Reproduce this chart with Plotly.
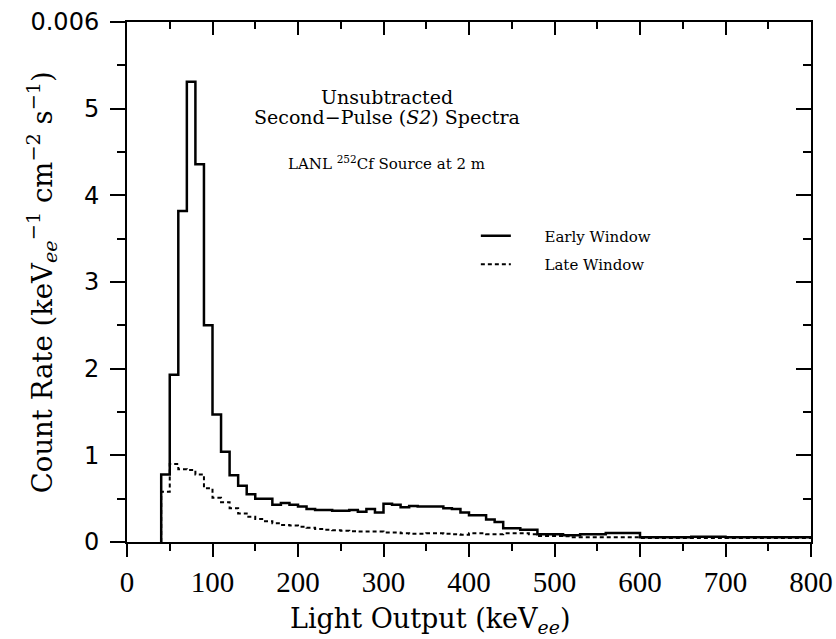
import plotly.graph_objects as go

# Bin edges (keV_ee), 10 keV bins starting at 40
bin_start = 40
bin_width = 10
# Early window count rate (units of 1e-3 keV^-1 cm^-2 s^-1)
early = [0.78, 1.93, 3.82, 5.31, 4.36, 2.50, 1.47, 1.04, 0.77, 0.65,
         0.55, 0.50, 0.50, 0.43, 0.45, 0.43, 0.41, 0.38, 0.37, 0.37,
         0.36, 0.36, 0.37, 0.35, 0.38, 0.34, 0.44, 0.43, 0.40, 0.415,
         0.41, 0.41, 0.41, 0.39, 0.38, 0.34, 0.31, 0.31, 0.26, 0.23,
         0.16, 0.16, 0.14, 0.14, 0.09, 0.09, 0.09, 0.077, 0.077, 0.09,
         0.09, 0.09, 0.105, 0.105, 0.105, 0.105, 0.055, 0.055, 0.055, 0.055,
         0.055, 0.055, 0.06, 0.06, 0.06, 0.06, 0.055, 0.055, 0.055, 0.055,
         0.055, 0.055, 0.055, 0.055, 0.055, 0.055]
late = [0.58, 0.90, 0.84, 0.83, 0.78, 0.62, 0.51, 0.46, 0.39, 0.33,
        0.29, 0.265, 0.24, 0.215, 0.195, 0.19, 0.177, 0.165, 0.15, 0.14,
        0.135, 0.13, 0.125, 0.12, 0.12, 0.12, 0.11, 0.11, 0.10, 0.095,
        0.095, 0.10, 0.10, 0.095, 0.09, 0.085, 0.10, 0.10, 0.09, 0.09,
        0.10, 0.10, 0.10, 0.09, 0.07, 0.07, 0.07, 0.065, 0.055, 0.055,
        0.055, 0.055, 0.055, 0.055, 0.055, 0.055, 0.045, 0.045, 0.045, 0.045,
        0.045, 0.045, 0.045, 0.045, 0.045, 0.045, 0.045, 0.045, 0.045, 0.045,
        0.045, 0.045, 0.045, 0.045, 0.045, 0.045]

y_tickvals = [0, 1, 2, 3, 4, 5, 6]
y_ticktext = ["0", "1", "2", "3", "4", "5", "0.006"]
x_tickvals = [0, 100, 200, 300, 400, 500, 600, 700, 800]


def step_xy(vals):
    xs = [bin_start] + [bin_start + i * bin_width for i in range(len(vals))] + [bin_start + len(vals) * bin_width]
    ys = [0] + list(vals) + [vals[-1]]
    return xs, ys


fig = go.Figure()
ex, ey = step_xy(early)
lx, ly = step_xy(late)
nb = "\u00a0"
fig.add_trace(go.Scatter(x=ex, y=ey, mode="lines", line=dict(shape="hv", color="black", width=2.5),
                         name=nb * 6 + "Early Window", legendgroup="a"))
fig.add_trace(go.Scatter(x=lx, y=ly, mode="lines", line=dict(shape="hv", color="black", width=2, dash="4px,3px"),
                         name=nb * 6 + "Late Window", legendgroup="b"))
# invisible trace to activate mirrored axes
fig.add_trace(go.Scatter(x=[0], y=[0], xaxis="x2", yaxis="y2", mode="markers",
                         marker=dict(opacity=0), showlegend=False, hoverinfo="skip"))

serif = "DejaVu Serif"
fig.update_layout(
    width=836, height=639,
    margin=dict(l=127, r=25, t=22, b=97, autoexpand=False),
    paper_bgcolor="white", plot_bgcolor="white",
    showlegend=True,
    legend=dict(x=0.51, y=0.62, xanchor="left", yanchor="top", bgcolor="rgba(0,0,0,0)",
                font=dict(family=serif, size=15, color="black"), tracegroupgap=6,
                traceorder="grouped"),
    xaxis=dict(range=[0, 800], tickvals=x_tickvals, ticks="outside", ticklen=13, tickwidth=1.5,
               tickcolor="black", showline=True, linewidth=2, linecolor="black", mirror=True,
               showgrid=False, zeroline=False, automargin=False,
               minor=dict(tickmode="linear", tick0=0, dtick=50, ticks="outside", ticklen=7, tickwidth=1.5, tickcolor="black"),
               tickfont=dict(family="Liberation Serif", size=29, color="black")),
    yaxis=dict(range=[0, 6], tickvals=y_tickvals, ticktext=y_ticktext, ticks="outside", ticklen=15, tickwidth=1.5,
               tickcolor="black", showline=True, linewidth=2, linecolor="black", mirror=True,
               showgrid=False, zeroline=False, ticklabelstandoff=6, automargin=False,
               minor=dict(tickmode="linear", tick0=0, dtick=0.5, ticks="outside", ticklen=8, tickwidth=1.5, tickcolor="black"),
               tickfont=dict(family="DejaVu Sans", size=24, color="black")),
    xaxis2=dict(overlaying="x", side="top", range=[0, 800], tickvals=x_tickvals, ticks="inside", ticklen=13,
                tickwidth=1.5, tickcolor="black", showticklabels=False, showgrid=False, zeroline=False, automargin=False,
                minor=dict(tickmode="linear", tick0=0, dtick=50, ticks="inside", ticklen=7, tickwidth=1.5, tickcolor="black")),
    yaxis2=dict(overlaying="y", side="right", range=[0, 6], tickvals=y_tickvals, ticks="inside", ticklen=15,
                tickwidth=1.5, tickcolor="black", showticklabels=False, showgrid=False, zeroline=False, automargin=False,
                minor=dict(tickmode="linear", tick0=0, dtick=0.5, ticks="inside", ticklen=8, tickwidth=1.5, tickcolor="black")),
)

fig.add_annotation(x=0.443, y=-0.15, xref="paper", yref="paper", showarrow=False,
                   xanchor="center", yanchor="middle",
                   text="Light Output (keV<sub><i>ee</i></sub>)",
                   font=dict(family=serif, size=27, color="black"))
fig.add_annotation(x=-0.124, y=0.5, xref="paper", yref="paper", showarrow=False, textangle=-90,
                   xanchor="center", yanchor="middle",
                   text="Count Rate (keV<sub><i>ee</i></sub><sup>−1</sup> cm<sup>−2</sup> s<sup>−1</sup>)",
                   font=dict(family=serif, size=27.5, color="black"))
fig.add_annotation(x=0.38, y=0.856, xref="paper", yref="paper", showarrow=False, yanchor="middle",
                   text="Unsubtracted", font=dict(family=serif, size=19, color="black"))
fig.add_annotation(x=0.38, y=0.817, xref="paper", yref="paper", showarrow=False, yanchor="middle",
                   text="Second−Pulse (<i>S2</i>) Spectra", font=dict(family=serif, size=19, color="black"))
fig.add_annotation(x=0.38, y=0.729, xref="paper", yref="paper", showarrow=False, yanchor="middle",
                   text="LANL <sup>252</sup>Cf Source at 2 m", font=dict(family=serif, size=15, color="black"))

fig.write_html("out.html")
